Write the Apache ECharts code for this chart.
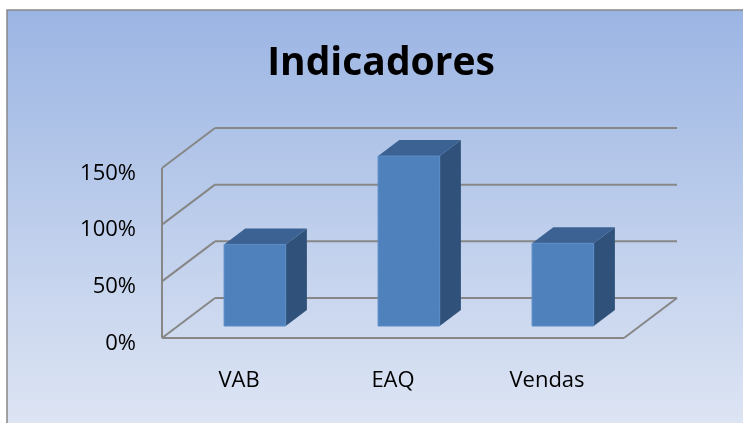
<!DOCTYPE html>
<html>
<head>
<meta charset="utf-8">
<script src="https://cdn.jsdelivr.net/npm/echarts@6/dist/echarts.min.js"></script>
<style>
	html, body { margin: 0; padding: 0; background: #fff; }
	#chart { width: 743px; height: 423px; }
</style>
</head>
<body>
<div id="chart"></div>
<script>
	// dados do gráfico
	var categorias = ['VAB', 'EAQ', 'Vendas'];
	var valores = [0.72, 1.5, 0.73];
	var yTicks = [0, 0.5, 1, 1.5];

	// profundidade do "3D" (px)
	var DX = 53, DY = -40;
	var FONT = '"Open Sans", "Noto Sans", sans-serif';

	var myChart = echarts.init(document.getElementById('chart'));

	// paredes e grelha
	var renderWalls = function(params, api) {
		var v = api.value(1);
		var y = api.coord([0, v])[1];
		var cs = params.coordSys;
		var x0 = cs.x, x1 = cs.x + cs.width;
		var style = { stroke: '#878787', lineWidth: 2 };
		var children = [
			{ type: 'line', shape: { x1: x0, y1: y, x2: x0 + DX, y2: y + DY }, style: style },
			{ type: 'line', shape: { x1: x0 + DX, y1: y + DY, x2: x1 + DX, y2: y + DY }, style: style }
		];
		if (v === 0) {
			children.push({ type: 'line', shape: { x1: x0, y1: y, x2: x1, y2: y }, style: style });
			children.push({ type: 'line', shape: { x1: x1, y1: y, x2: x1 + DX, y2: y + DY }, style: style });
			children.push({ type: 'line', shape: { x1: x0, y1: y, x2: x0, y2: cs.y }, style: style });
		}
		return { type: 'group', children: children };
	};

	// barras em 3D
	var renderBar = function(params, api) {
		var i = api.value(0);
		var base = api.coord([i, 0]);
		var top = api.coord([i, api.value(1)]);
		var band = api.size([1, 0])[0];
		var w = band * 0.4;
		var fx = base[0] - w / 2 + 0.3 * DX;
		var fy0 = base[1] + 0.3 * DY;
		var fy1 = top[1] + 0.3 * DY;
		var ddx = 0.4 * DX, ddy = 0.4 * DY;
		return {
			type: 'group',
			children: [{
				type: 'polygon',
				shape: { points: [[fx + w, fy1], [fx + w + ddx, fy1 + ddy], [fx + w + ddx, fy0 + ddy], [fx + w, fy0]] },
				style: { fill: '#30527a' }
			}, {
				type: 'polygon',
				shape: { points: [[fx, fy1], [fx + w, fy1], [fx + w + ddx, fy1 + ddy], [fx + ddx, fy1 + ddy]] },
				style: { fill: '#3b6292' }
			}, {
				type: 'rect',
				shape: { x: fx, y: fy1, width: w, height: fy0 - fy1 },
				style: { fill: '#4f81bd', stroke: '#5b8bc6', lineWidth: 1 }
			}]
		};
	};

	var option = {
		backgroundColor: '#fff',
		animation: false,
		graphic: [{
			type: 'rect',
			z: -10,
			shape: { x: 7, y: 10, width: 745, height: 425 },
			style: {
				fill: new echarts.graphic.LinearGradient(0, 0, 0, 1, [
					{ offset: 0, color: '#9bb5e3' },
					{ offset: 1, color: '#dfe6f4' }
				]),
				stroke: '#888',
				lineWidth: 1.5
			}
		}],
		title: {
			text: 'Indicadores',
			left: 376,
			textAlign: 'center',
			top: 39,
			textStyle: {
				fontFamily: FONT,
				fontWeight: 'bold',
				fontSize: 39,
				color: '#000'
			}
		},
		grid: { left: 162, top: 168, width: 462, height: 170 },
		xAxis: {
			type: 'category',
			data: categorias,
			axisLine: { show: false },
			axisTick: { show: false },
			splitLine: { show: false },
			axisLabel: { margin: 32, fontSize: 22, fontFamily: FONT, color: '#000' }
		},
		yAxis: {
			type: 'value',
			min: 0,
			max: 1.5,
			interval: 0.5,
			axisLine: { show: false },
			axisTick: { show: false },
			splitLine: { show: false },
			axisLabel: {
				margin: 26,
				fontSize: 22,
				fontFamily: FONT,
				color: '#000',
				verticalAlign: 'top',
				lineHeight: 11,
				formatter: function(value) {
					return Math.round(value * 100) + '%';
				}
			}
		},
		series: [{
			type: 'custom',
			z: 1,
			clip: false,
			silent: true,
			renderItem: renderWalls,
			data: yTicks.map(function(v) { return [0, v]; })
		}, {
			type: 'custom',
			z: 3,
			clip: false,
			renderItem: renderBar,
			data: valores.map(function(v, i) { return [i, v]; })
		}]
	};
	myChart.setOption(option);
</script>
</body>
</html>
